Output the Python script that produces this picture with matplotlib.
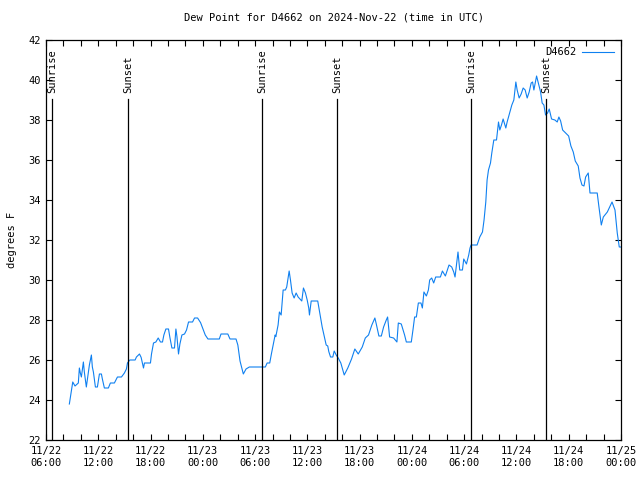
import matplotlib
matplotlib.use("Agg")
import matplotlib.pyplot as plt
from matplotlib.ticker import MultipleLocator, FixedLocator

# hours since 11/22 06:00 UTC
hours = [2.68, 3.07, 3.33, 3.71, 3.83, 3.94, 4.06, 4.29, 4.40, 4.63, 4.86, 4.98, 5.21, 5.32, 5.44,
         5.67, 5.90, 6.13, 6.36, 6.47, 6.70, 7.16, 7.39, 7.85, 8.20, 8.66, 9.00, 9.23, 9.35, 9.62,
         10.23, 10.38, 10.73, 10.92, 11.19, 11.30, 11.99, 12.11, 12.34, 12.61, 12.88, 13.14, 13.37,
         13.53, 13.76, 14.06, 14.22, 14.45, 14.75, 14.91, 15.03, 15.21, 15.37, 15.60, 15.90, 16.13,
         16.36, 16.82, 17.05, 17.40, 17.74, 17.97, 18.28, 18.59, 19.89, 20.09, 20.87, 21.12, 21.81,
         22.02, 22.27, 22.65, 22.96, 23.34, 25.18, 25.38, 25.68, 25.87, 26.10, 26.30, 26.38, 26.64,
         26.79, 26.99, 27.14, 27.22, 27.48, 27.63, 27.75, 27.91, 28.06, 28.25, 28.48, 28.71, 28.94,
         29.36, 29.55, 29.78, 29.98, 30.16, 30.24, 30.44, 31.19, 31.47, 31.70, 31.96, 32.16, 32.34,
         32.46, 32.66, 32.92, 33.08, 33.31, 33.54, 33.84, 34.23, 34.64, 35.07, 35.45, 35.84, 36.30,
         36.65, 37.02, 37.40, 37.75, 37.91, 38.21, 38.49, 38.75, 39.06, 39.21, 39.44, 39.90, 40.28,
         40.44, 40.78, 41.16, 41.36, 41.93, 42.12, 42.31, 42.51, 42.74, 43.04, 43.20, 43.38, 43.66,
         43.89, 44.04, 44.27, 44.50, 44.73, 45.27, 45.50, 45.84, 46.26, 46.57, 46.80, 46.95, 47.11,
         47.29, 47.49, 47.80, 47.95, 48.26, 48.52, 48.67, 48.79, 49.48, 49.79, 50.10, 50.28, 50.48,
         50.63, 50.79, 51.02, 51.17, 51.40, 51.71, 51.94, 52.09, 52.28, 52.47, 52.78, 52.93, 53.24,
         53.47, 53.70, 53.93, 54.08, 54.31, 54.54, 54.77, 55.00, 55.23, 55.46, 55.69, 55.85, 56.00,
         56.15, 56.31, 56.54, 56.77, 56.95, 57.15, 57.34, 57.57, 57.76, 58.03, 58.41, 58.68, 58.87,
         59.07, 59.30, 59.64, 59.99, 60.25, 60.52, 60.75, 61.09, 61.29, 61.52, 61.75, 61.94, 62.24,
         62.44, 63.27, 63.47, 63.74, 63.97, 64.43, 64.97, 65.31, 65.57, 65.80, 65.96]
dewpoint = [23.8, 24.9, 24.7, 24.85, 25.6, 25.35, 25.15, 25.9, 25.4, 24.65, 25.4, 25.75, 26.25, 25.65, 25.4,
            24.65, 24.65, 25.3, 25.3, 25.05, 24.6, 24.6, 24.85, 24.85, 25.15, 25.15, 25.35, 25.55, 25.85, 26.0,
            26.0, 26.15, 26.3, 26.13, 25.6, 25.85, 25.85, 26.3, 26.85, 26.9, 27.1, 26.9, 26.9,
            27.25, 27.55, 27.55, 27.13, 26.6, 26.6, 27.55, 27.17, 26.3, 26.8, 27.25, 27.3, 27.5,
            27.9, 27.9, 28.1, 28.1, 27.87, 27.6, 27.25, 27.05, 27.05, 27.3, 27.3, 27.05, 27.05,
            26.75, 25.95, 25.3, 25.55, 25.65, 25.65, 25.85, 25.85, 26.3, 26.8, 27.25, 27.17, 27.75,
            28.4, 28.25, 29.1, 29.5, 29.5, 29.65, 30.0, 30.45, 30.0, 29.35, 29.1, 29.35, 29.15,
            28.95, 29.6, 29.35, 29.0, 28.6, 28.25, 28.95, 28.95, 28.25, 27.65, 27.15, 26.75, 26.7,
            26.42, 26.15, 26.15, 26.45, 26.25, 26.1, 25.85, 25.25, 25.6, 26.05, 26.55, 26.3, 26.65,
            27.1, 27.25, 27.75, 28.1, 27.8, 27.2, 27.2, 27.65, 28.0, 28.15, 27.15, 27.1, 26.9,
            27.85, 27.8, 27.25, 26.9, 26.9, 27.5, 28.15, 28.15, 28.85, 28.85, 28.6, 29.4, 29.2,
            29.5, 30.0, 30.1, 29.85, 30.15, 30.15, 30.45, 30.2, 30.75, 30.65, 30.4, 30.15, 30.75,
            31.4, 30.5, 30.5, 31.05, 30.8, 31.25, 31.6, 31.75, 31.75, 32.15, 32.4, 33.0, 33.9,
            35.0, 35.5, 35.85, 36.35, 37.0, 37.0, 37.9, 37.5, 37.75, 38.05, 37.6, 37.9, 38.4,
            38.75, 39.0, 39.9, 39.5, 39.1, 39.3, 39.6, 39.5, 39.1, 39.4, 39.85, 39.9, 39.5,
            39.85, 40.2, 39.8, 39.4, 38.85, 38.75, 38.25, 38.35, 38.55, 38.05, 38.0, 37.9, 38.15,
            37.95, 37.5, 37.35, 37.2, 36.7, 36.4, 35.95, 35.7, 35.1, 34.75, 34.7, 35.15, 35.35,
            34.35, 34.35, 33.65, 32.75, 33.15, 33.4, 33.9, 33.5, 32.35, 31.65, 31.65]

sun_hours = [0.69, 9.40, 24.80, 33.42, 48.80, 57.42]
sun_labels = ["Sunrise", "Sunset", "Sunrise", "Sunset", "Sunrise", "Sunset"]

xtick_hours = [0, 6, 12, 18, 24, 30, 36, 42, 48, 54, 60, 66]
xtick_labels = ["11/22\n06:00", "11/22\n12:00", "11/22\n18:00", "11/23\n00:00",
                "11/23\n06:00", "11/23\n12:00", "11/23\n18:00", "11/24\n00:00",
                "11/24\n06:00", "11/24\n12:00", "11/24\n18:00", "11/25\n00:00"]

FONT = "DejaVu Sans Mono"
FS = 7.5
plt.rcParams['font.family'] = [FONT]

fig = plt.figure(figsize=(6.4, 4.8), dpi=100)
ax = fig.add_axes([46 / 640, 40 / 480, 575 / 640, 400 / 480])

line_color = '#0f80f0'
ax.plot(hours, dewpoint, color=line_color, lw=0.8, label="D4662")

for h, lab in zip(sun_hours, sun_labels):
    ax.plot([h, h], [22, 39.05], color='black', lw=0.9)
    ax.text(h, 39.35, lab, rotation=90, ha='center', va='bottom', fontsize=FS, family=FONT)

ax.set_xlim(0, 66)
ax.set_ylim(22, 42)
ax.xaxis.set_major_locator(FixedLocator(xtick_hours))
ax.set_xticklabels(xtick_labels)
ax.xaxis.set_minor_locator(MultipleLocator(2))
ax.yaxis.set_major_locator(MultipleLocator(2))
ax.tick_params(which='both', direction='in', top=True, right=True, length=4, width=0.8,
               labelsize=FS, pad=4)
for lab in ax.get_xticklabels():
    lab.set_linespacing(1.3)
for s in ax.spines.values():
    s.set_linewidth(0.9)

ax.set_ylabel("degrees F", fontsize=FS, labelpad=8)
ax.set_title("Dew Point for D4662 on 2024-Nov-22 (time in UTC)", fontsize=FS, pad=14)

leg = ax.legend(loc='upper right', frameon=False, fontsize=FS, handlelength=3.0,
                markerfirst=False, borderaxespad=0.3, handletextpad=0.6)

fig.savefig("out.png", dpi=100)
